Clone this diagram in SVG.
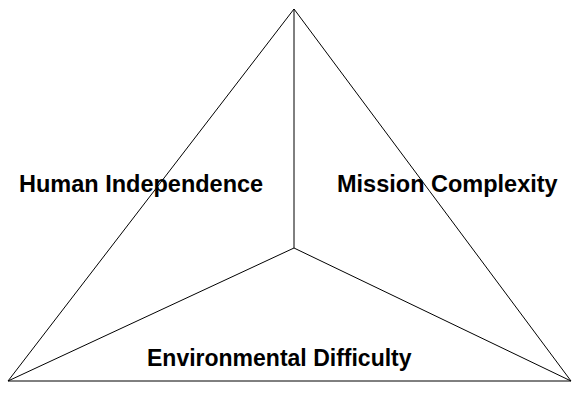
<svg xmlns="http://www.w3.org/2000/svg" width="576" height="395" viewBox="0 0 576 395">
<style>
.ln{stroke:#000;stroke-width:1;fill:none}
.lbl{font-family:"Liberation Sans",Arial,sans-serif;font-weight:bold;font-size:23.5px;fill:#000}
</style>
<rect width="576" height="395" fill="#fff"/>
<g id="connectors">
<polygon class="ln" points="294,9 8,381 571,381"/>
<line class="ln" x1="294" y1="9" x2="294" y2="248"/>
<line class="ln" x1="294" y1="248" x2="8" y2="381"/>
<line class="ln" x1="294" y1="248" x2="571" y2="381"/>
</g>
<g id="human"><text class="lbl" x="19" y="192">Human Independence</text></g>
<g id="mission"><text class="lbl" x="337" y="192">Mission Complexity</text></g>
<g id="env"><text class="lbl" x="147" y="366" style="font-size:23px">Environmental Difficulty</text></g>
</svg>
